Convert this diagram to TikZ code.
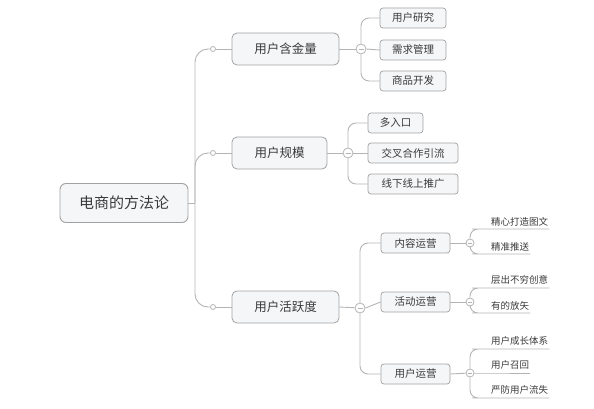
\documentclass[tikz,border=0pt]{standalone}
\usepackage{fontspec}
\setmainfont{Noto Sans CJK SC}
\usepackage{tikz}
\usepackage{xcolor}
\definecolor{linec}{HTML}{B4B4B4}
\definecolor{boxc}{HTML}{A2A2A2}
\definecolor{fillc}{HTML}{F5F6F8}
\definecolor{textc}{HTML}{3A3A3A}
\tikzset{
  link/.style={draw=linec, line width=0.9pt},
  rootbox/.style={draw=boxc, fill=fillc, rounded corners=6pt, line width=0.9pt, minimum width=128pt, minimum height=39pt, text=textc, font=\fontsize{15}{15}\selectfont},
  topicbox/.style={draw=boxc, fill=fillc, rounded corners=5pt, line width=0.8pt, minimum height=32pt, text=textc, font=\fontsize{12.5}{13}\selectfont},
  subbox/.style={draw=boxc, fill=fillc, rounded corners=3pt, line width=0.7pt, minimum height=20pt, text=textc, font=\fontsize{10.5}{11}\selectfont},
  leaf/.style={inner xsep=1pt, inner ysep=3pt, anchor=south west, text=textc, font=\fontsize{9.5}{10}\selectfont},
  knob/.style={circle, draw=linec, fill=white, line width=0.8pt, inner sep=0pt, minimum size=5pt},
  fold/.style={circle, draw=linec, fill=white, line width=0.8pt, inner sep=0pt, minimum size=#1,
    path picture={\draw[linec, line width=0.8pt] ([xshift=-0.25*#1]path picture bounding box.center) -- ([xshift=0.25*#1]path picture bounding box.center);}},
}

\begin{document}
\begin{tikzpicture}[x=1pt, y=-1pt]
\useasboundingbox (0,0) rectangle (594,409);
% root
\node[rootbox] (root) at (124,203) {电商的方法论};
\coordinate (hub) at (195,203);
% first level
\node[knob] (k1) at (213,49) {};
\node[knob] (k2) at (213,153) {};
\node[knob] (k3) at (213,307) {};
\node[topicbox, minimum width=107pt] (t1) at (285.5,49) {用户含金量};
\node[topicbox, minimum width=95pt] (t2) at (279.5,153) {用户规模};
\node[topicbox, minimum width=107pt] (t3) at (285.5,307) {用户活跃度};
\node[fold=10pt] (f1) at (361,49) {};
\node[fold=10pt] (f2) at (348,153) {};
\node[fold=10pt] (f3) at (360,308) {};
\draw[link] (root.east) -- (hub);
\draw[link, rounded corners=13pt] (hub) |- (k1);
\draw[link, rounded corners=13pt] (hub) |- (k2);
\draw[link, rounded corners=13pt] (hub) |- (k3);
\foreach \i in {1,2,3} {
  \draw[link] (k\i) -- (t\i.west);
  \draw[link] (t\i.east) -- (f\i);
}
% second level
\node[subbox, minimum width=66pt] (s11) at (413,18) {用户研究};
\node[subbox, minimum width=66pt] (s12) at (413,50) {需求管理};
\node[subbox, minimum width=66pt] (s13) at (413,81) {商品开发};
\node[subbox, minimum width=55pt] (s21) at (395.5,123) {多入口};
\node[subbox, minimum width=90pt] (s22) at (413,153) {交叉合作引流};
\node[subbox, minimum width=90pt] (s23) at (413,184) {线下线上推广};
\node[subbox, minimum width=69pt] (s31) at (415.5,243) {内容运营};
\node[subbox, minimum width=69pt] (s32) at (415.5,302) {活动运营};
\node[subbox, minimum width=69pt] (s33) at (415.5,374) {用户运营};
\draw[link, rounded corners=8pt] (f1.north) |- (s11.west);
\draw[link] (f1.east) -- (s12.west);
\draw[link, rounded corners=8pt] (f1.south) |- (s13.west);
\draw[link, rounded corners=8pt] (f2.north) |- (s21.west);
\draw[link] (f2.east) -- (s22.west);
\draw[link, rounded corners=8pt] (f2.south) |- (s23.west);
\draw[link, rounded corners=8pt] (f3.north) |- (s31.west);
\draw[link] (f3.east) -- (s32.west);
\draw[link, rounded corners=8pt] (f3.south) |- (s33.west);
% third level
\node[fold=8pt] (g1) at (470,243) {};
\node[fold=8pt] (g2) at (470,302) {};
\node[fold=8pt] (g3) at (470,373) {};
\foreach \i in {1,2,3}
  \draw[link] (s3\i.east) -- (g\i);
\node[leaf] (l11) at (490,229) {精心打造图文};
\node[leaf] (l12) at (490,254) {精准推送};
\node[leaf] (l21) at (490,288) {层出不穷创意};
\node[leaf] (l22) at (490,313) {有的放矢};
\node[leaf] (l31) at (490,349) {用户成长体系};
\node[leaf] (l32) at (490,373) {用户召回};
\node[leaf] (l33) at (490,398) {严防用户流失};
\foreach \i in {1,2,3} {
  \draw[link, rounded corners=8pt] (g\i.north) |- ([xshift=-10pt]l\i1.south west) -- (l\i1.south east);
}
\draw[link, rounded corners=8pt] (g1.south) |- ([xshift=-10pt]l12.south west) -- (l12.south east);
\draw[link, rounded corners=8pt] (g2.south) |- ([xshift=-10pt]l22.south west) -- (l22.south east);
\draw[link] (g3.east) -- (l32.south west) -- (l32.south east);
\draw[link, rounded corners=8pt] (g3.south) |- ([xshift=-10pt]l33.south west) -- (l33.south east);
\end{tikzpicture}
\end{document}
